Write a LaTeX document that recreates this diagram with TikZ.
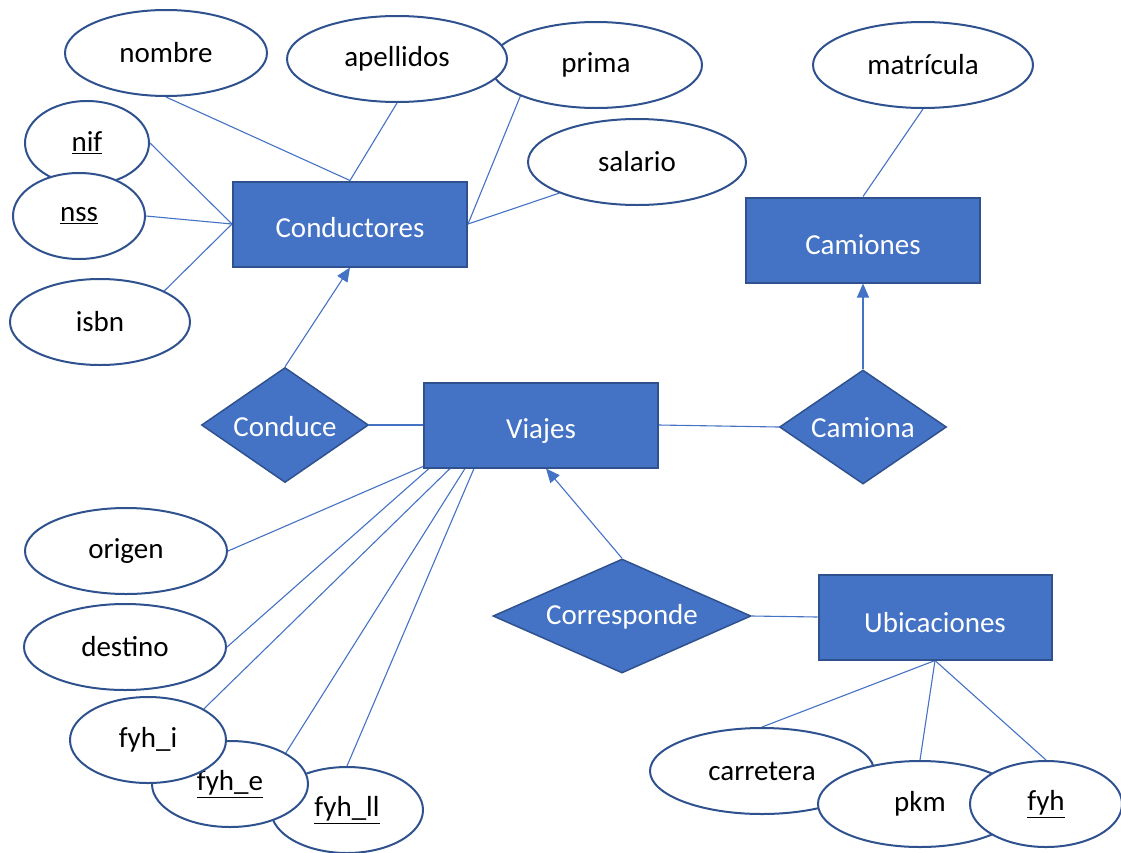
\documentclass[tikz,border=0pt]{standalone}
\usepackage{fontspec}
\setmainfont{Carlito}
\usetikzlibrary{shapes.geometric,arrows.meta}
\definecolor{fillblue}{HTML}{4472C4}
\definecolor{edgeblue}{HTML}{2F528F}
\pgfdeclarelayer{bg}
\pgfsetlayers{bg,main}
\newcommand{\lowered}[2]{\raisebox{-#1}[\height][\depth]{#2}}
\begin{document}
\begin{tikzpicture}[x=1pt,y=-1pt,
  lbl/.style={font=\fontsize{29}{34}\selectfont},
  attr/.style={ellipse, draw=edgeblue, line width=2pt, fill=white, inner sep=0pt, lbl},
  ent/.style={rectangle, draw=edgeblue, line width=2pt, fill=fillblue, text=white, inner sep=0pt, minimum width=234pt, minimum height=85pt, lbl},
  rel/.style={diamond, draw=edgeblue, line width=1.5pt, fill=fillblue, text=white, inner sep=0pt, lbl},
  conn/.style={draw=fillblue, line width=1.1pt},
  arr/.style={conn, -{Triangle[length=14pt,width=12pt]}}]
\useasboundingbox (0,0) rectangle (1121,852);
% entities
\node[ent] (cond) at (350,224) {\lowered{4pt}{Conductores}};
\node[ent] (cam) at (863,240) {\lowered{5pt}{Camiones}};
\node[ent] (viajes) at (541,425) {\lowered{6pt}{Viajes}};
\node[ent, minimum width=233pt] (ubic) at (935,617) {\lowered{6pt}{Ubicaciones}};
% relationships
\node[rel, aspect=1.45, minimum width=167pt, minimum height=115pt] (conduce) at (285,425) {\lowered{2pt}{Conduce}};
\node[rel, aspect=1.46, minimum width=167pt, minimum height=114pt] (camiona) at (863,427) {\lowered{1pt}{Camiona}};
\node[rel, aspect=2.26, minimum width=258pt, minimum height=114pt] (corr) at (622,616) {\lowered{1pt}{Corresponde}};
% attributes
\node[attr, minimum width=202pt, minimum height=86pt] (nombre) at (166,53) {nombre};
\node[attr, minimum width=212pt, minimum height=86pt] (prima) at (596,65) {prima};
\node[attr, minimum width=220pt, minimum height=86pt] (apellidos) at (397,59) {apellidos};
\node[attr, minimum width=218pt, minimum height=86pt] (salario) at (637,162) {salario};
\node[attr, minimum width=220pt, minimum height=86pt] (matricula) at (923,65) {matrícula};
\node[attr, minimum width=124pt, minimum height=84pt] (nif) at (87,143) {\underline{nif}};
\node[attr, minimum width=132pt, minimum height=86pt] (nss) at (79,216) {\underline{nss}};
\node[attr, minimum width=180pt, minimum height=86pt] (isbn) at (100,322) {isbn};
\node[attr, minimum width=202pt, minimum height=86pt] (origen) at (126,551) {origen};
\node[attr, minimum width=202pt, minimum height=86pt] (destino) at (125,647) {destino};
\node[attr, minimum width=152pt, minimum height=86pt] (fyhll) at (347,810) {\underline{fyh\_ll}};
\node[attr, minimum width=156pt, minimum height=86pt] (fyhe) at (230,784) {\underline{fyh\_e}};
\node[attr, minimum width=156pt, minimum height=86pt] (fyhi) at (148,740) {fyh\_i};
\node[attr, minimum width=224pt, minimum height=86pt] (carretera) at (762,771) {carretera};
\node[attr, minimum width=204pt, minimum height=86pt] (pkm) at (920,804) {pkm};
\node[attr, minimum width=152pt, minimum height=86pt] (fyh) at (1046,804) {\underline{fyh}};
% connectors
\begin{pgfonlayer}{bg}
\draw[conn] (nombre.south) -- (cond.north);
\draw[conn] (apellidos.south) -- (cond.north);
\draw[conn] (prima.south west) -- (cond.east);
\draw[conn] (salario.south west) -- (cond.east);
\draw[conn] (nif.east) -- (cond.west);
\draw[conn] (nss.east) -- (cond.west);
\draw[conn] (isbn.north east) -- (cond.west);
\draw[conn] (matricula.south) -- (cam.north);
\draw[arr] (conduce.north) -- (cond.south);
\draw[conn] (conduce.east) -- (viajes.west);
\draw[conn] (viajes.east) -- (camiona.west);
\draw[arr] (camiona.north) -- (cam.south);
\draw[arr] (corr.north) -- ([xshift=5pt]viajes.south);
\draw[conn] (corr.east) -- (ubic.west);
\draw[conn] (ubic.south) -- (carretera.north);
\draw[conn] (ubic.south) -- (pkm.north);
\draw[conn] (ubic.south) -- (fyh.north);
\draw[conn] ([yshift=2pt]viajes.south west) -- (origen.east);
\draw[conn] ([xshift=6pt]viajes.south west) -- (destino.east);
\draw[conn] ([xshift=27pt]viajes.south west) -- (fyhi.north east);
\draw[conn] ([xshift=42pt]viajes.south west) -- (fyhe.north east);
\draw[conn] ([xshift=51pt]viajes.south west) -- (fyhll.north);
\end{pgfonlayer}
\end{tikzpicture}
\end{document}
